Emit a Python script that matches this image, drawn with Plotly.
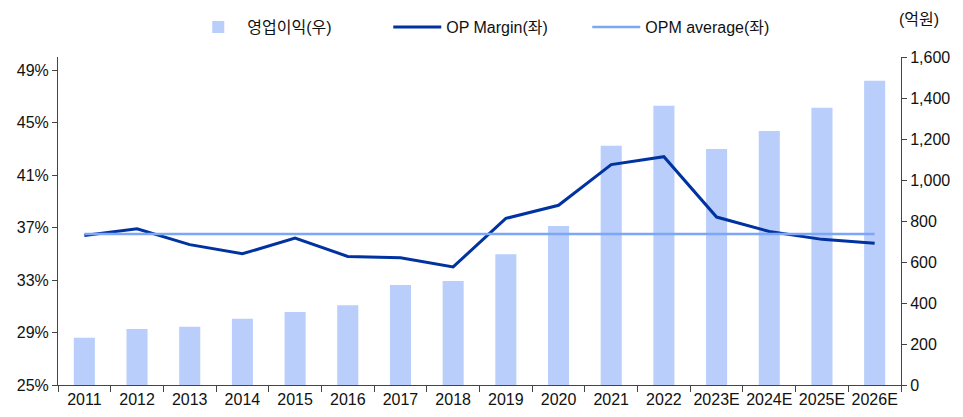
import plotly.graph_objects as go

years = ["2011", "2012", "2013", "2014", "2015", "2016", "2017", "2018",
         "2019", "2020", "2021", "2022", "2023E", "2024E", "2025E", "2026E"]
op_income = [231, 273, 284, 323, 356, 389, 488, 507,
             638, 776, 1167, 1362, 1151, 1239, 1353, 1484]
op_margin = [36.4, 36.9, 35.7, 35.0, 36.2, 34.8, 34.7, 34.0,
             37.7, 38.7, 41.8, 42.4, 37.8, 36.7, 36.1, 35.8]
opm_avg = [36.5, 36.5, 36.5, 36.5, 36.5, 36.5, 36.5, 36.5,
           36.5, 36.5, 36.5, 36.5, 36.5, 36.5, 36.5, 36.5]
left_ticks = [25, 29, 33, 37, 41, 45, 49]
right_ticks = [0, 200, 400, 600, 800, 1000, 1200, 1400, 1600]

FONT = "Liberation Sans, Arial, Noto Sans CJK KR, sans-serif"
AX = "#444444"

fig = go.Figure()
fig.add_trace(go.Bar(x=years, y=op_income, name="영업이익(우)", yaxis="y",
                     marker=dict(color="#b9cefb", line=dict(width=0)), width=0.4))
fig.add_trace(go.Scatter(x=years, y=op_margin, name="OP Margin(좌)", yaxis="y2",
                         mode="lines", line=dict(color="#0033a0", width=3)))
fig.add_trace(go.Scatter(x=years, y=opm_avg, name="OPM average(좌)", yaxis="y2",
                         mode="lines", line=dict(color="#7ea6f7", width=2.5)))

fig.update_layout(
    width=955, height=409,
    margin=dict(l=50, r=62, t=49, b=32, autoexpand=False),
    paper_bgcolor="white", plot_bgcolor="white",
    font=dict(family=FONT, size=16, color="#111111"),
    showlegend=True,
    legend=dict(orientation="h", xref="container", yref="container",
                x=0.1898, xanchor="left", y=0.953, yanchor="middle",
                font=dict(size=16), itemwidth=48, traceorder="normal",
                entrywidth=136, entrywidthmode="pixels",
                bgcolor="rgba(0,0,0,0)"),
    xaxis=dict(type="category", showline=True, linecolor=AX, linewidth=1,
               ticks="outside", tickson="boundaries", ticklen=6, tickcolor=AX,
               showgrid=False, tickangle=0, automargin=False, tickfont=dict(size=16)),
    yaxis=dict(side="right", range=[0, 1600], tickvals=right_ticks,
               tickformat=",", showline=True, linecolor=AX, linewidth=1,
               ticks="outside", ticklen=5, tickcolor=AX, showgrid=False,
               zeroline=False, automargin=False, tickfont=dict(size=16)),
    yaxis2=dict(side="left", overlaying="y", range=[25, 50], tickvals=left_ticks,
                ticktext=[f"{v}%" for v in left_ticks], showline=True,
                linecolor=AX, linewidth=1, ticks="outside", ticklen=5,
                tickcolor=AX, showgrid=False, zeroline=False, automargin=False,
                tickfont=dict(size=16)),
    annotations=[dict(text="(억원)", xref="paper", yref="paper",
                      x=0.995, y=1.113, xanchor="left", yanchor="middle",
                      showarrow=False, font=dict(size=16))],
)

fig.write_html("out.html")
